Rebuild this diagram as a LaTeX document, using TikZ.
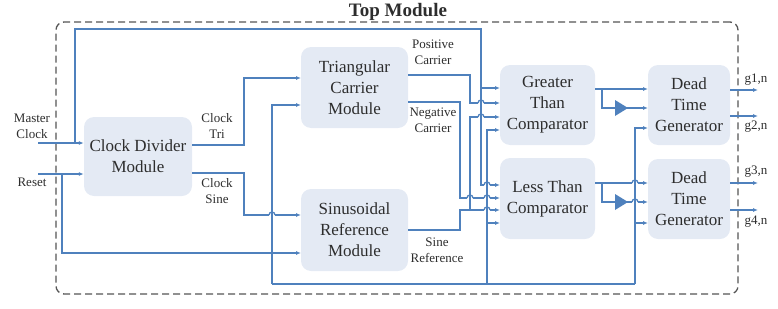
\documentclass[tikz,border=0pt]{standalone}
\usepackage{fontspec}
\setmainfont{Liberation Serif}
\usetikzlibrary{arrows.meta}
\definecolor{wireblue}{RGB}{79,129,189}
\definecolor{boxfill}{RGB}{228,234,244}
\definecolor{txt}{RGB}{45,45,45}
\definecolor{dashgray}{RGB}{85,85,85}
\newcommand{\hopat}[2]{%
  \fill[white] (#1-3,#2-1.2) rectangle (#1+3,#2+1.2);
  \draw[wire] (#1,#2-4) -- (#1,#2+4);
  \draw[wire] (#1-3,#2) arc[start angle=180,end angle=360,radius=3];}
\begin{document}
\begin{tikzpicture}[x=1pt,y=-1pt,
  block/.style={fill=boxfill, draw=none, rounded corners=10pt, align=center,
    text=txt, font=\fontsize{17}{21}\selectfont, inner sep=0pt},
  lbl/.style={align=center, text=txt, font=\fontsize{13}{16}\selectfont, inner sep=0pt},
  wire/.style={draw=wireblue, line width=1.3pt},
  arr/.style={wire, -{Latex[length=5pt,width=4pt]}},
  inv/.style={fill=wireblue}]
\useasboundingbox (0,0) rectangle (778,308);

% title and frame
\node[font=\fontsize{19}{23}\selectfont\bfseries, text=txt, anchor=base, inner sep=0pt] (title) at (398,16) {Top Module};
\node[draw=dashgray, line width=1.3pt, dash pattern=on 7pt off 4pt, rounded corners=8pt,
  minimum width=682pt, minimum height=272pt, inner sep=0pt] (topbox) at (397,158) {};

% blocks
\node[block, minimum width=108pt, minimum height=79pt] (cd) at (138,156.5) {Clock Divider\\Module};
\node[block, minimum width=107pt, minimum height=81pt] (tri) at (354.5,87.5) {Triangular\\Carrier\\Module};
\node[block, minimum width=107pt, minimum height=82pt] (sin) at (354.5,230) {Sinusoidal\\Reference\\Module};
\node[block, minimum width=95pt, minimum height=80pt] (gt) at (547.5,105) {Greater\\Than\\Comparator};
\node[block, minimum width=95pt, minimum height=81pt] (lt) at (547.5,198.5) {Less Than\\Comparator};
\node[block, minimum width=82pt, minimum height=80pt] (dt1) at (689,105) {Dead\\Time\\Generator};
\node[block, minimum width=82pt, minimum height=80pt] (dt2) at (689,199) {Dead\\Time\\Generator};

% pins
\coordinate (mcin) at (38,143);
\coordinate (rsin) at (38,174);
\coordinate (clkj) at (75,143);
\coordinate (clktop) at (481,29);
\coordinate (rj) at (62,174);
\coordinate (t1) at (301,78);
\coordinate (t2) at (301,105);
\coordinate (s1) at (301,215);
\coordinate (s2) at (301,253);
\coordinate (gt1) at (500,88);
\coordinate (gt2) at (500,103);
\coordinate (gt3) at (500,117);
\coordinate (gt4) at (500,130);
\coordinate (lt1) at (500,185);
\coordinate (lt2) at (500,198);
\coordinate (lt3) at (500,210);
\coordinate (lt4) at (500,223);
\coordinate (cdo1) at (192,145);
\coordinate (cdo2) at (192,173);
\coordinate (tpo) at (408,75);
\coordinate (tno) at (408,102);
\coordinate (so) at (408,230);
\coordinate (sj) at (470,210);
\coordinate (rbus) at (272,284);
\coordinate (rv) at (487,284);
\coordinate (dtv) at (635,284);
\coordinate (gto) at (595,89);
\coordinate (gb) at (602,89);
\coordinate (lto) at (595,183);
\coordinate (lb) at (602,183);
\coordinate (d11) at (648,89);
\coordinate (d12) at (648,108);
\coordinate (d13) at (648,128);
\coordinate (d21) at (648,183);
\coordinate (d22) at (648,202);
\coordinate (d23) at (648,223);
\coordinate (g1) at (758,90);
\coordinate (g2) at (758,116);
\coordinate (g3) at (758,183);
\coordinate (g4) at (758,210);

% inputs
\draw[arr] (mcin) -- (mcin -| cd.west);
\draw[arr] (rsin) -- (rsin -| cd.west);
% clock bus
\draw[arr] (clkj) |- (clktop) |- (lt1);
\draw[arr] (clktop |- gt1) -- (gt1);
% reset bus
\draw[arr] (rj) |- (s2);
\draw[arr] (rbus) |- (t2);
\draw[wire] (rbus) -- (dtv);
\draw[arr] (rv) |- (gt4);
\draw[arr] (rv |- lt4) -- (lt4);
\draw[arr] (dtv) |- (d13);
\draw[arr] (dtv |- d23) -- (d23);
% clock divider outputs
\draw[arr] (cdo1) -- ++(52,0) |- (t1);
\draw[arr] (cdo2) -- ++(52,0) |- (s1);
% carriers and sine
\draw[arr] (tpo) -- ++(62,0) |- (gt2);
\draw[arr] (tno) -- ++(52,0) |- (lt2);
\draw[arr] (so) -- ++(52,0) |- (lt3);
\draw[arr] (sj) |- (gt3);
% comparator outputs
\draw[arr] (gto) -- (d11);
\draw[arr] (gb) |- (d12);
\draw[arr] (lto) -- (d21);
\draw[arr] (lb) |- (d22);
\fill[inv] (615,100) -- (628,108) -- (615,116) -- cycle;
\fill[inv] (615,194) -- (628,202) -- (615,210) -- cycle;
% outputs
\draw[arr] (dt1.east |- g1) -- (g1);
\draw[arr] (dt1.east |- g2) -- (g2);
\draw[arr] (dt2.east |- g3) -- (g3);
\draw[arr] (dt2.east |- g4) -- (g4);

% hops
\hopat{481}{103}
\hopat{481}{117}
\hopat{470}{198}
\hopat{487}{185}
\hopat{487}{198}
\hopat{487}{210}
\hopat{272}{215}
\hopat{635}{183}
\hopat{635}{202}

% labels
\node[lbl] (lmc) at (32,126) {Master\\Clock};
\node[lbl] (lrs) at (32,182) {Reset};
\node[lbl] (lct) at (217,126) {Clock\\Tri};
\node[lbl] (lcs) at (217,191) {Clock\\Sine};
\node[lbl] (lpc) at (433,52) {Positive\\Carrier};
\node[lbl] (lnc) at (433,120.5) {Negative\\Carrier};
\node[lbl] (lsr) at (437,250) {Sine\\Reference};
\node[lbl] (lg1) at (756,80) {g1,n};
\node[lbl] (lg2) at (756,127) {g2,n};
\node[lbl] (lg3) at (756,172) {g3,n};
\node[lbl] (lg4) at (756,222) {g4,n};
\end{tikzpicture}
\end{document}
